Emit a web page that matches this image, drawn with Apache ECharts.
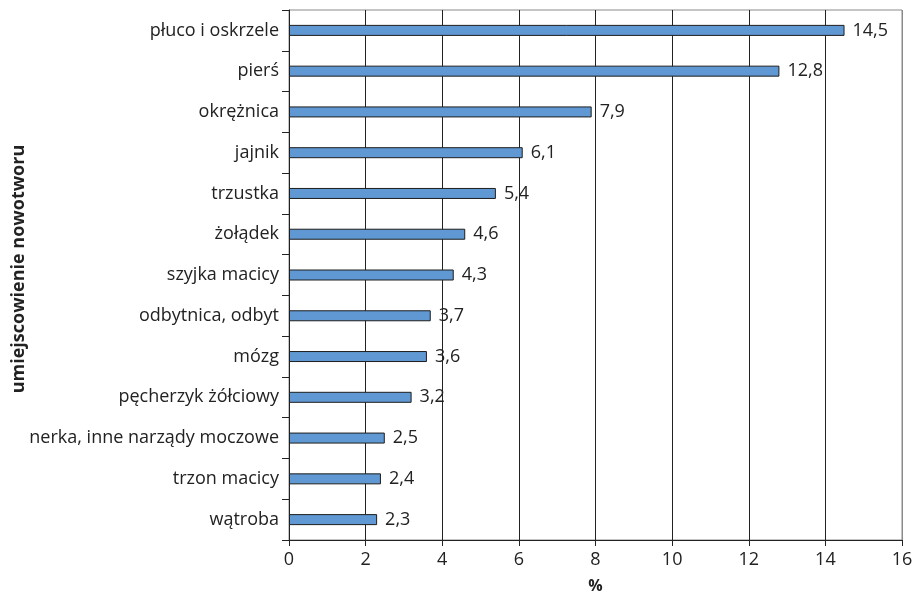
<!DOCTYPE html>
<html>
<head>
<meta charset="utf-8">
<script src="https://cdn.jsdelivr.net/npm/echarts@6/dist/echarts.min.js"></script>
<style>
  html, body { margin: 0; padding: 0; background: #fff; }
  #chart { width: 919px; height: 593px; }
</style>
</head>
<body>
<div id="chart"></div>
<script>
// Cancer sites, listed from top to bottom
const sites = [
  'płuco i oskrzele', 'pierś', 'okrężnica', 'jajnik', 'trzustka', 'żołądek',
  'szyjka macicy', 'odbytnica, odbyt', 'mózg', 'pęcherzyk żółciowy',
  'nerka, inne narządy moczowe', 'trzon macicy', 'wątroba'
];
// Share of cases, %
const shares = [14.5, 12.8, 7.9, 6.1, 5.4, 4.6, 4.3, 3.7, 3.6, 3.2, 2.5, 2.4, 2.3];

const axisTitle = 'umiejscowienie nowotworu';
const valueTitle = '%';

const FONT = '"Open Sans", "Noto Sans", sans-serif';
const fmt = v => String(v).replace('.', ',');

const chart = echarts.init(document.getElementById('chart'));
chart.setOption({
  animation: false,
  textStyle: { fontFamily: FONT },
  grid: {
    left: 289, right: 17, top: 10, bottom: 53,
    outerBoundsMode: 'none', containLabel: false,
    show: true, borderColor: '#8a8a8a', borderWidth: 1
  },
  xAxis: {
    type: 'value', min: 0, max: 16, interval: 2,
    name: valueTitle, nameLocation: 'middle', nameGap: 38, nameMoveOverlap: false,
    nameTextStyle: { fontFamily: FONT, fontWeight: 'bold', fontSize: 16, color: '#222' },
    axisLine: { show: true, lineStyle: { color: '#222', width: 1 } },
    axisTick: { show: true, length: 6, lineStyle: { color: '#222' } },
    axisLabel: { fontFamily: FONT, fontSize: 18, color: '#222', margin: 11 },
    splitLine: {
      show: true,
      lineStyle: { color: ['#222', '#222', '#222', '#222', '#222', '#222', '#222', '#222', '#8a8a8a'], width: 1 }
    }
  },
  yAxis: {
    type: 'category', data: sites, inverse: true,
    name: axisTitle, nameLocation: 'middle', nameGap: 261, nameMoveOverlap: false,
    nameTextStyle: {
      fontFamily: FONT, fontWeight: 'bold', fontSize: 18, color: '#222',
      padding: [0, 0, 0, 12]
    },
    axisLine: { show: true, lineStyle: { color: '#222', width: 1 } },
    axisTick: { show: true, length: 7, lineStyle: { color: '#222' } },
    axisLabel: { fontFamily: FONT, fontSize: 18, color: '#222', margin: 10 },
    splitLine: { show: false }
  },
  series: [{
    type: 'bar',
    data: shares,
    barWidth: 11,
    itemStyle: { color: '#5f98d2', borderColor: '#1e1e1e', borderWidth: 1 },
    label: {
      show: true, position: 'right', distance: 8,
      fontFamily: FONT, fontSize: 18, color: '#222',
      formatter: p => fmt(p.value)
    }
  }]
});
</script>
</body>
</html>
